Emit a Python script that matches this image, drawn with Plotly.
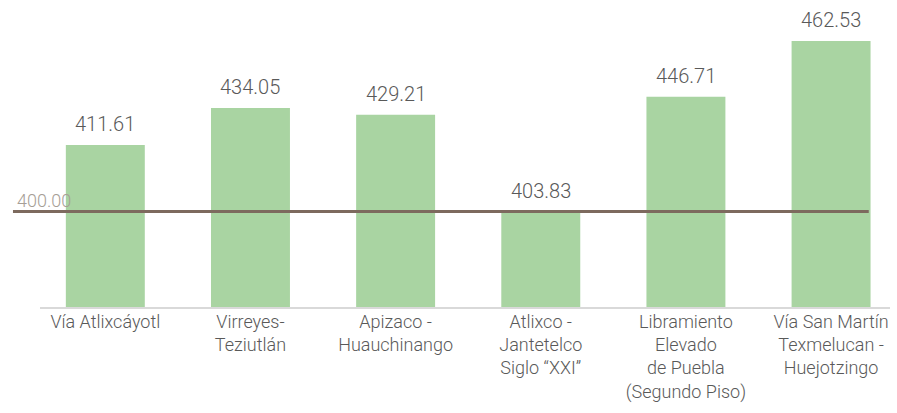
import plotly.graph_objects as go

# ---- data ----
categories = [
    "Vía Atlixcáyotl",
    "Virreyes-<br>Teziutlán",
    "Apizaco -<br>Huauchinango",
    "Atlixco -<br>Jantetelco<br>Siglo “XXI”",
    "Libramiento<br>Elevado<br>de Puebla<br>(Segundo Piso)",
    "Vía San Martín<br>Texmelucan -<br>Huejotzingo",
]
value_labels = ["411.61", "434.05", "429.21", "403.83", "446.71", "462.53"]
# bar heights as drawn in the picture (units of the hidden y axis)
bar_heights = [420.9, 432.5, 430.4, 399.7, 436.0, 453.5]
reference_value = 400.00
y_range = [370, 466.4]

FONT = "Roboto, Liberation Sans, sans-serif"
TEXT_COLOR = "#595959"

fig = go.Figure()
fig.add_trace(go.Bar(
    x=categories,
    y=[h - y_range[0] for h in bar_heights],
    base=y_range[0],
    marker=dict(color="#A9D4A2", line=dict(width=0)),
    hoverinfo="skip",
))

annotations = []
for c, h, lab in zip(categories, bar_heights, value_labels):
    annotations.append(dict(
        x=c, y=h, xref="x", yref="y", text=lab, showarrow=False,
        yanchor="bottom", yshift=7,
        font=dict(family=FONT, size=20, color=TEXT_COLOR, weight=300),
    ))
annotations.append(dict(
    x=-0.03, y=reference_value, xref="paper", yref="y",
    text=f"{reference_value:.2f}", showarrow=False,
    xanchor="left", yanchor="bottom", yshift=-2,
    font=dict(family=FONT, size=18, color="#A69E96", weight=300),
))

fig.add_shape(
    type="line", xref="paper", yref="y",
    x0=-0.0318, x1=0.975, y0=reference_value, y1=reference_value,
    line=dict(color="#7D6A5E", width=3),
)

fig.update_layout(
    width=897, height=413,
    margin=dict(l=40, r=7, t=0, b=106),
    paper_bgcolor="white", plot_bgcolor="white",
    bargap=0.456,
    showlegend=False,
    annotations=annotations,
    xaxis=dict(
        range=[-0.45, 5.406],
        showline=True, linecolor="#D9D9D9", linewidth=2,
        showgrid=False, zeroline=False, ticks="",
        automargin=False,
        ticklabelstandoff=-3,
        tickfont=dict(family=FONT, size=18, color=TEXT_COLOR, weight=300),
    ),
    yaxis=dict(
        range=y_range, visible=False, showgrid=False, zeroline=False,
    ),
)

fig.write_html(
    "out.html",
    config={"displayModeBar": False},
    post_script="document.body.style.margin='0px';",
)
